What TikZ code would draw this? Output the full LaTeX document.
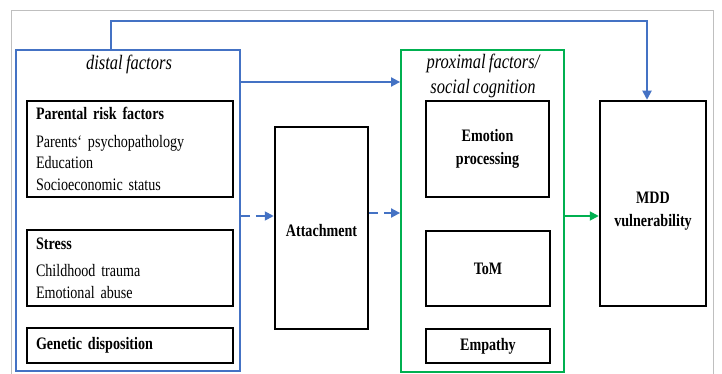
\documentclass[tikz,border=0pt]{standalone}
\usepackage{fontspec}
\setmainfont{Liberation Serif}[FakeStretch=0.805,WordSpace=0.8]
\usetikzlibrary{arrows.meta}
\definecolor{myblue}{RGB}{68,114,196}
\definecolor{mygreen}{RGB}{0,176,80}

\begin{document}
\begin{tikzpicture}[x=1pt,y=-1pt,
  my box/.style={
    draw=black, line width=2.5pt, fill=white,
    font=\fontsize{17.5}{21.5}\selectfont,
  },
  my list/.style={
    my box, align=left, inner xsep=9pt, text width=188pt,
  },
  my label/.style={
    my box, align=center, font=\fontsize{17.5}{22.5}\selectfont\bfseries,
  },
  my group/.style={
    line width=1.8pt, minimum width=#1,
  },
  my title/.style={
    align=center, font=\fontsize{20.5}{25}\selectfont\itshape,
  },
  my arrow/.style={
    line width=1.8pt, -{Triangle[length=9pt,width=9pt]},
  }]
  \useasboundingbox (0,0) rectangle (722,374);
  \clip (0,0) rectangle (722,374);
  \draw[black!25, line width=1pt] (11,11) rectangle (713,390);

  % distal factors
  \node[my group=224pt, draw=myblue, minimum height=321pt] (distal) at (128,210.5) {};
  \node[my title] (distal title) at (129,64) {distal factors};
  \node[my list, minimum height=96pt] (parental) at (130,149)
    {\textbf{Parental risk factors}\\[6pt] Parents‘ psychopathology\\ Education\\ Socioeconomic status};
  \node[my list, minimum height=76pt] (stress) at (130,268)
    {\textbf{Stress}\\[6pt] Childhood trauma\\ Emotional abuse};
  \node[my list, minimum height=35pt] (genetic) at (130,345.5)
    {\textbf{Genetic disposition}};

  % attachment
  \node[my label, minimum width=93pt, minimum height=202pt] (attach) at (321.5,228) {};
  \node[my label, draw=none, fill=none] (attach text) at (321.5,231) {Attachment};

  % proximal factors / social cognition
  \node[my group=163pt, draw=mygreen, minimum height=322pt] (prox) at (482.5,211) {};
  \node[my title] (prox title) at (483,76) {proximal factors/\\ social cognition};
  \node[my label, minimum width=123pt, minimum height=96pt] (emotion) at (487.5,149) {Emotion\\ processing};
  \node[my label, minimum width=124pt, minimum height=75pt] (tom) at (488,268.5) {ToM};
  \node[my label, minimum width=124pt, minimum height=34pt] (empathy) at (488,346) {Empathy};

  % outcome
  \node[my label, minimum width=106pt, minimum height=205pt] (mdd) at (653,203.5) {};
  \node[my label, draw=none, fill=none] (mdd text) at (653,211) {MDD\\ vulnerability};

  % connections
  \draw[my arrow, myblue] ([xshift=96pt]distal.north west) -- ++(0,-28) -| ([xshift=-6pt]mdd.north);
  \draw[my arrow, myblue] (distal.east |- 0,82) -- (prox.west |- 0,82);
  \draw[my arrow, myblue, dash pattern=on 9pt off 6pt] (distal.east |- 0,216) -- (attach.west |- 0,216);
  \draw[my arrow, myblue, dash pattern=on 9pt off 6pt] (attach.east |- 0,213) -- (prox.west |- 0,213);
  \draw[my arrow, mygreen] (prox.east |- 0,216) -- (mdd.west |- 0,216);
\end{tikzpicture}
\end{document}
